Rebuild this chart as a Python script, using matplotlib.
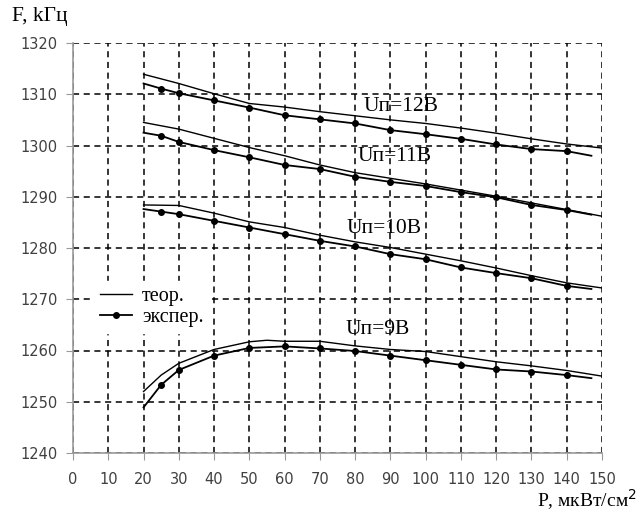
import matplotlib.pyplot as plt
import numpy as np
from matplotlib.lines import Line2D

# P, мкВт/см^2 (experimental points; first/last are line ends without markers)
p_exp = [20, 25, 30, 40, 50, 60, 70, 80, 90, 100, 110, 120, 130, 140, 147]
p_teor = [20, 30, 40, 50, 60, 70, 80, 90, 100, 110, 120, 130, 140, 150]
p_teor_9 = [20, 25, 30, 40, 50, 55, 60, 70, 80, 90, 100, 110, 120, 130, 140, 150]

# 12 V
exp_12 = [1312.1, 1311.1, 1310.2, 1308.8, 1307.4, 1305.9, 1305.1, 1304.3, 1303.0,
          1302.2, 1301.3, 1300.2, 1299.3, 1298.9, 1298.0]
teor_12 = [1313.9, 1312.1, 1310.1, 1308.2, 1307.5, 1306.6, 1305.8, 1305.0, 1304.3,
           1303.4, 1302.4, 1301.3, 1300.3, 1299.5]
# 11 V
exp_11 = [1302.5, 1301.9, 1300.7, 1299.1, 1297.7, 1296.2, 1295.4, 1293.9, 1292.9,
          1292.1, 1290.9, 1289.9, 1288.4, 1287.4, 1286.5]
teor_11 = [1304.5, 1303.2, 1301.4, 1299.6, 1298.0, 1296.2, 1294.7, 1293.6, 1292.5,
           1291.3, 1290.1, 1288.8, 1287.5, 1286.2]
# 10 V
exp_10 = [1287.6, 1287.1, 1286.6, 1285.3, 1284.0, 1282.7, 1281.4, 1280.3, 1278.8,
          1277.8, 1276.2, 1275.1, 1274.1, 1272.6, 1272.0]
teor_10 = [1288.4, 1288.3, 1286.8, 1285.1, 1284.0, 1282.5, 1281.2, 1280.1, 1278.8,
           1277.5, 1276.1, 1274.6, 1273.2, 1272.2]
# 9 V
exp_9 = [1248.9, 1253.3, 1256.2, 1259.0, 1260.5, 1260.8, 1260.4, 1259.9, 1259.0,
         1258.1, 1257.2, 1256.3, 1255.9, 1255.2, 1254.6]
teor_9 = [1252.0, 1255.2, 1257.5, 1260.2, 1261.7, 1262.0, 1261.8, 1261.8, 1260.9,
          1260.2, 1259.8, 1258.8, 1257.8, 1257.0, 1256.1, 1255.0]

labels = ["Uп=12В", "Uп=11В", "Uп=10В", "Uп=9В"]
label_x = [82.4, 80.7, 77.6, 77.3]
label_y = [1306.8, 1296.9, 1283.0, 1263.3]  # baselines

fig = plt.figure(figsize=(6.38, 5.14), dpi=100)
ax = fig.add_axes([73/638, 1 - 453/514, (602 - 73)/638, (453 - 43)/514])

ax.set_xlim(0, 150)
ax.set_ylim(1240, 1320)
ax.set_xticks(np.arange(0, 151, 10))
ax.set_yticks(np.arange(1240, 1321, 10))
ax.grid(True, color='black', linestyle=(0, (4, 3)), linewidth=1.1)
ax.set_axisbelow(True)

for s in ['top', 'right']:
    ax.spines[s].set_visible(False)
for s in ['left', 'bottom']:
    ax.spines[s].set_color('#999999')
    ax.spines[s].set_linewidth(1.2)
ax.tick_params(direction='out', length=5, color='#999999', labelcolor='#404040',
               labelsize=10.5)
ax.tick_params(axis='x', pad=9)
ax.tick_params(axis='y', pad=6)

mk = dict(marker='o', markersize=4, markevery=list(range(1, 14)))
series = [(exp_12, teor_12, p_teor), (exp_11, teor_11, p_teor),
          (exp_10, teor_10, p_teor), (exp_9, teor_9, p_teor_9)]
for i, (e, t, pt) in enumerate(series):
    lt, = ax.plot(pt, t, color='black', linewidth=1.0)
    ax.plot(p_exp, e, color='black', linewidth=1.3, **mk)
    if i == 0:
        h_teor = lt

for txt, x, y in zip(labels, label_x, label_y):
    ax.text(x, y, txt, family='Liberation Serif', fontsize=15.5, va='baseline',
            ha='left')

h_exp = Line2D([], [], color='black', linewidth=1.3, marker='o', markersize=4)
leg = ax.legend([h_teor, h_exp], ['теор.', 'экспер.'], loc='upper left',
                bbox_to_anchor=(0.02, 0.445), frameon=True, fancybox=False,
                framealpha=1, edgecolor='white', facecolor='white',
                prop={'family': 'Liberation Serif', 'size': 14.5},
                handlelength=1.6, handletextpad=0.5, labelspacing=0.1,
                borderpad=0.3)

fig.text(12/638, 1 - 16/514, 'F, kГц', family='Liberation Serif', fontsize=15.5,
         va='center', ha='left')
fig.text(637/638, 1 - 500/514, 'P, мкВт/см$^2$', family='Liberation Serif',
         fontsize=14, va='center', ha='right')

fig.savefig('out.png', dpi=100)
